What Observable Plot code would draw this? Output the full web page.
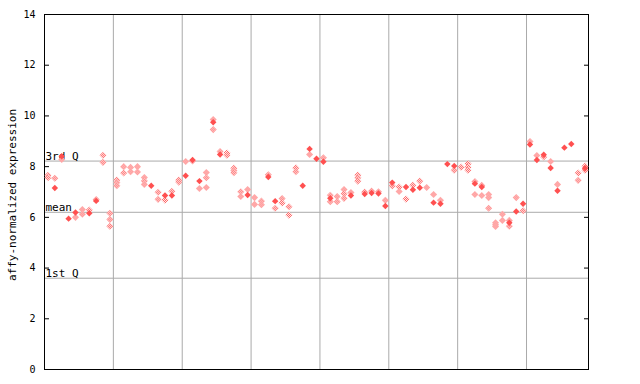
<!DOCTYPE html>
<html>
<head>
<meta charset="utf-8">
<script src="https://cdn.jsdelivr.net/npm/d3@7"></script>
<script src="https://cdn.jsdelivr.net/npm/@observablehq/plot@0.6"></script>
<style>
  html, body { margin: 0; padding: 0; background: #ffffff; }
</style>
</head>
<body>
<div id="chart"></div>
<script>
// Sample index (0..78) and expression values
const filledIdx = [1, 2, 3, 4, 6, 7, 15, 17, 18, 20, 21, 22, 24, 25, 29, 32, 33, 37, 38, 39,
  40, 41, 44, 46, 47, 48, 49, 50, 52, 53, 54, 56, 57, 58, 59, 62, 63, 67, 68, 69,
  70, 71, 72, 73, 74, 75, 76, 78];
const filledVal = [7.16, 8.41, 5.95, 6.19, 6.16, 6.65, 7.25, 6.86, 6.86, 7.64, 8.26, 7.43, 9.75, 8.48, 6.88, 7.59, 6.64, 7.25, 8.70, 8.31,
  8.19, 6.75, 6.86, 6.92, 6.96, 6.94, 6.45, 7.37, 7.20, 7.09, 7.17, 6.58, 6.54, 8.10, 8.03, 7.33, 7.20, 5.79, 6.23, 6.54,
  8.87, 8.26, 8.47, 7.95, 7.05, 8.75, 8.89, 7.94];

const hollowIdx = [0, 0, 1, 2, 4, 5, 5, 6, 7, 8, 8, 9, 9, 9,
  10, 10, 10, 11, 11, 12, 12, 13, 13, 14, 14, 14, 16, 16, 17, 18, 19, 19,
  20, 21, 22, 23, 23, 23, 24, 24, 25, 26, 26, 27, 27, 27, 28, 28, 29,
  30, 30, 31, 31, 32, 33, 34, 34, 35, 35, 36, 36, 38,
  40, 41, 41, 42, 42, 43, 43, 43, 44, 45, 45, 45, 46, 47, 48, 49,
  50, 51, 51, 52, 53, 54, 55, 56, 57, 59,
  60, 61, 61, 61, 62, 62, 63, 63, 64, 64, 64, 65, 65, 65, 66, 66, 67, 67, 68, 69,
  70, 71, 72, 73, 74, 77, 77, 78, 78];
const hollowVal = [7.66, 7.56, 7.54, 8.28, 6.00, 6.31, 6.12, 6.29, 6.70, 8.45, 8.17, 6.16, 5.92, 5.65,
  7.47, 7.37, 7.25, 8.00, 7.75, 7.97, 7.80, 8.00, 7.79, 7.57, 7.43, 7.30, 6.99, 6.71, 6.68, 7.03, 7.47, 7.39,
  8.20, 8.22, 7.14, 7.77, 7.56, 7.18, 9.86, 9.46, 8.60, 8.54, 8.45, 7.94, 7.85, 7.76, 7.01, 6.82, 7.10,
  6.78, 6.51, 6.64, 6.50, 7.68, 6.36, 6.74, 6.57, 6.42, 6.09, 7.95, 7.80, 8.48,
  8.35, 6.87, 6.62, 6.82, 6.62, 7.10, 6.93, 6.75, 6.98, 7.67, 7.56, 7.43, 7.00, 7.04, 7.01, 6.67,
  7.24, 7.20, 7.02, 6.72, 7.27, 7.43, 7.18, 6.90, 6.67, 7.86,
  7.98, 8.11, 7.98, 7.86, 7.41, 6.90, 7.26, 6.86, 6.90, 6.78, 6.36, 5.79, 5.71, 5.64, 6.12, 5.88, 5.88, 5.65, 6.78, 6.26,
  8.99, 8.44, 8.38, 8.20, 7.30, 7.75, 7.46, 8.02, 7.86];

const groupBreaks = [9.5, 19.5, 29.5, 39.5, 49.5, 59.5, 69.5];
const refLabels = ["3rd Q", "mean", "1st Q"];
const refValues = [8.22, 6.20, 3.60];
const yTicks = [0, 2, 4, 6, 8, 10, 12, 14];
const yTitle = "affy-normalized expression";
const sampleCount = 79;

const filled = filledIdx.map((i, k) => ({i, v: filledVal[k]}));
const hollow = hollowIdx.map((i, k) => ({i, v: hollowVal[k]}));
const refs = refLabels.map((label, k) => ({label, v: refValues[k]}));

const RED = "#ff5050";
const GRID = "#aaaaaa";

const chart = Plot.plot({
  width: 640,
  height: 384,
  marginLeft: 44,
  marginRight: 52,
  marginTop: 14,
  marginBottom: 15,
  style: {fontFamily: "'DejaVu Sans Mono', monospace", fontSize: "10px", background: "#ffffff", color: "black"},
  x: {domain: [-0.5, sampleCount - 0.5], axis: null},
  y: {domain: [0, 14], axis: null},
  marks: [
    Plot.ruleX(groupBreaks, {stroke: GRID, strokeWidth: 1}),
    Plot.ruleY(refs, {y: "v", stroke: GRID, strokeWidth: 1}),
    Plot.text(refs, {x: -0.5, y: "v", text: "label", textAnchor: "start", lineAnchor: "bottom", dx: 1, dy: -1, fontSize: 11, fill: "black"}),
    Plot.axisY({ticks: yTicks, tickSize: -5, anchor: "left", label: null, fontSize: 10}),
    Plot.axisY({ticks: yTicks, tickSize: -5, anchor: "right", tickFormat: () => "", label: null}),
    Plot.text([yTitle], {text: d => d, frameAnchor: "left", textAnchor: "middle", rotate: -90, dx: -32, dy: 3, fontSize: 11, fill: "black"}),
    Plot.frame({stroke: "black"}),
    Plot.dot(hollow, {x: "i", y: "v", symbol: "diamond2", r: 3.2, fill: "url(#chk)", stroke: "none"}),
    Plot.dot(filled, {x: "i", y: "v", symbol: "diamond2", r: 2.9, fill: RED, stroke: "none"})
  ]
});

const svg = d3.select(chart);
const defs = svg.insert("defs", ":first-child");
const pat = defs.append("pattern")
  .attr("id", "chk")
  .attr("patternUnits", "userSpaceOnUse")
  .attr("width", 2).attr("height", 2);
pat.append("rect").attr("width", 2).attr("height", 2).attr("fill", "#ffffff");
pat.append("rect").attr("x", 0).attr("y", 0).attr("width", 1).attr("height", 1).attr("fill", RED);
pat.append("rect").attr("x", 1).attr("y", 1).attr("width", 1).attr("height", 1).attr("fill", RED);

document.getElementById("chart").appendChild(chart);
</script>
</body>
</html>
